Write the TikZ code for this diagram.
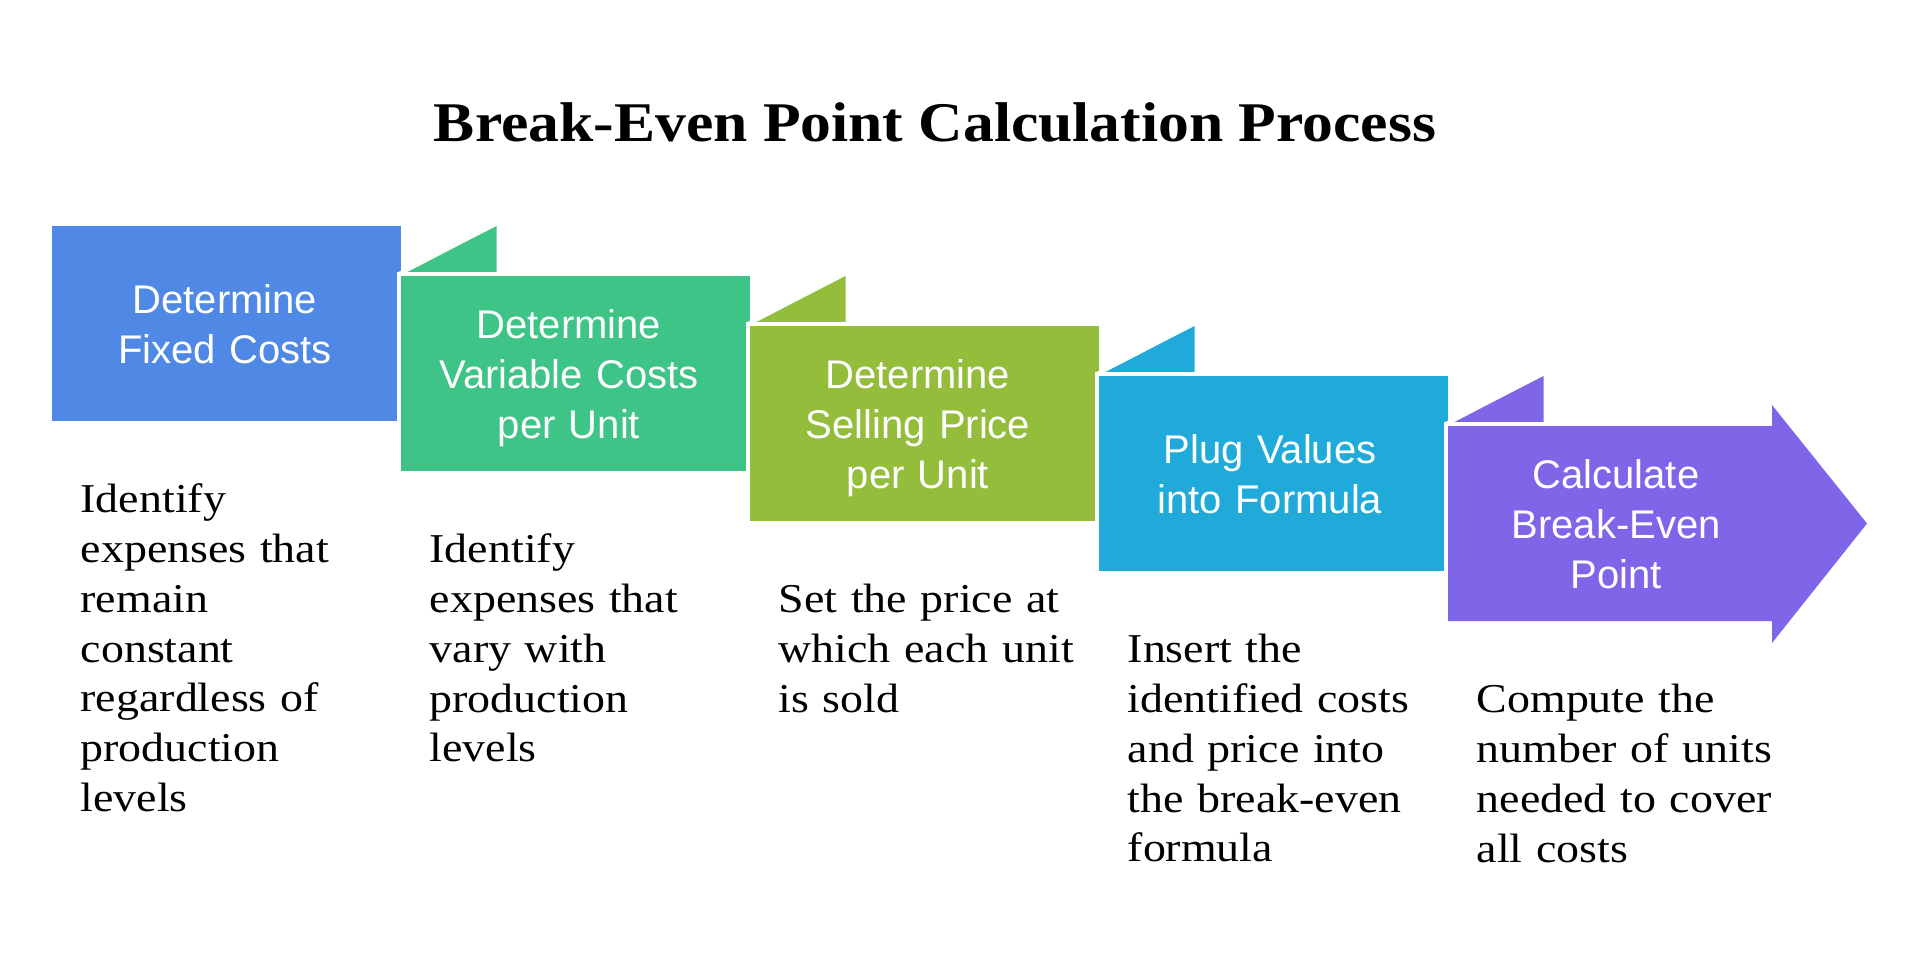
\documentclass[tikz,border=0pt]{standalone}
\usepackage{fontspec}
\setmainfont{Liberation Serif}[FakeStretch=1.12]
\newfontfamily\titlefont{Liberation Serif}[FakeStretch=1.10]
\newfontfamily\boxfont{Liberation Sans}
\definecolor{cBlue}{HTML}{4F88E5}
\definecolor{cGreen}{HTML}{3DC486}
\definecolor{cOlive}{HTML}{93BD3A}
\definecolor{cCyan}{HTML}{20AAD9}
\definecolor{cPurple}{HTML}{7F65E8}
\tikzset{
  sepline/.style={draw=white, line width=4pt, line cap=butt, line join=miter},
  steplabel/.style={anchor=base, inner sep=0pt, text width=330pt, align=center, text=white,
     font=\boxfont\fontsize{40}{50}\selectfont},
  desclabel/.style={anchor=base west, inner sep=0pt, text width=320pt, align=left, text=black,
     font=\fontsize{41}{49.8}\selectfont},
}
\begin{document}
\begin{tikzpicture}[x=1pt,y=-1pt]
\useasboundingbox (0,0) rectangle (1920,972);
\fill[white] (0,0) rectangle (1920,972);
\node[anchor=base, inner sep=0pt, font=\titlefont\bfseries\fontsize{56}{60}\selectfont] (title) at (935,141.7) {Break-Even Point Calculation Process};
% step 1
\fill[cBlue] (51.5,226) rectangle (400.5,421);
% step 2
\fill[cGreen] (399,274) -- (496.5,226) -- (496.5,274) -- cycle;
\draw[sepline] (399,274) -- (496.5,223.5);
\fill[cGreen] (399,274) rectangle (749.5,471);
\draw[sepline] (399,471) -- (399,274) -- (749.5,274);
% step 3
\fill[cOlive] (748,324) -- (845.5,276) -- (845.5,324) -- cycle;
\draw[sepline] (748,324) -- (845.5,273.5);
\fill[cOlive] (748,324) rectangle (1098.5,521);
\draw[sepline] (748,521) -- (748,324) -- (1098.5,324);
% step 4
\fill[cCyan] (1097,374) -- (1194.5,326) -- (1194.5,374) -- cycle;
\draw[sepline] (1097,374) -- (1194.5,323.5);
\fill[cCyan] (1097,374) rectangle (1447.5,571);
\draw[sepline] (1097,571) -- (1097,374) -- (1447.5,374);
% step 5
\fill[cPurple] (1446,424) -- (1543.5,376) -- (1543.5,424) -- cycle;
\draw[sepline] (1446,424) -- (1543.5,373.5);
\fill[cPurple] (1446,424) -- (1772,424) -- (1772,405) -- (1867,523.5) -- (1772,643) -- (1772,621) -- (1446,621) -- cycle;
\draw[sepline] (1446,621) -- (1446,424) -- (1772,424);
% step labels
\node[steplabel] (l1) at (225,313.5) {Determine\\Fixed Costs};
\node[steplabel] (l2) at (569,338.5) {Determine\\Variable Costs\\per Unit};
\node[steplabel] (l3) at (918,388.5) {Determine\\Selling Price\\per Unit};
\node[steplabel] (l4) at (1270,463.5) {Plug Values\\into Formula};
\node[steplabel] (l5) at (1616,488.5) {Calculate\\Break-Even\\Point};
% descriptions
\node[desclabel] (d1) at (80.5,512.7) {Identify\\expenses that\\remain\\constant\\regardless of\\production\\levels};
\node[desclabel] (d2) at (429.5,562.7) {Identify\\expenses that\\vary with\\production\\levels};
\node[desclabel] (d3) at (778.5,612.7) {Set the price at\\which each unit\\is sold};
\node[desclabel] (d4) at (1127.5,662.7) {Insert the\\identified costs\\and price into\\the break-even\\formula};
\node[desclabel] (d5) at (1476.5,712.7) {Compute the\\number of units\\needed to cover\\all costs};
\end{tikzpicture}
\end{document}
